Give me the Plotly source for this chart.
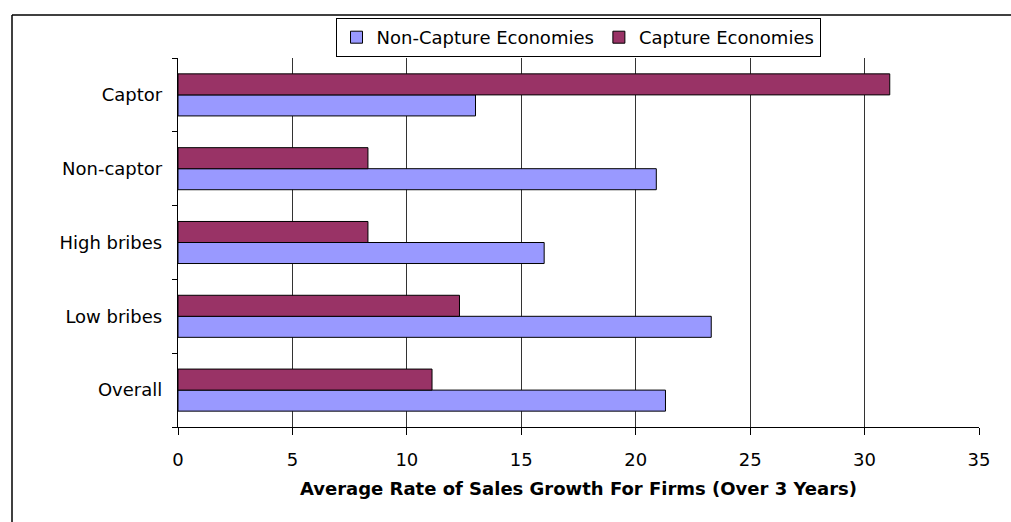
import plotly.graph_objects as go

categories = ["Overall", "Low bribes", "High bribes", "Non-captor", "Captor"]
non_capture = [21.3, 23.3, 16.0, 20.9, 13.0]
capture = [11.1, 12.3, 8.3, 8.3, 31.1]
x_ticks = [0, 5, 10, 15, 20, 25, 30, 35]

FONT = "DejaVu Sans, Verdana, sans-serif"

fig = go.Figure()
fig.add_trace(go.Bar(
    y=categories, x=non_capture, orientation="h", name="Non-Capture Economies",
    marker=dict(color="#9999FF", line=dict(color="#000000", width=1)),
))
fig.add_trace(go.Bar(
    y=categories, x=capture, orientation="h", name="Capture Economies",
    marker=dict(color="#993366", line=dict(color="#000000", width=1)),
))

L, R, T, B = 178, 32, 58, 95
W, H = 1011, 522
pw, ph = W - L - R, H - T - B

def px_x(p):
    return (p - L) / pw

def px_y(p):
    return (H - B - p) / ph

fig.update_layout(
    width=W, height=H,
    margin=dict(l=L, r=R, t=T, b=B, autoexpand=False),
    paper_bgcolor="white", plot_bgcolor="white",
    barmode="group", bargap=0.43, bargroupgap=0,
    font=dict(family=FONT, size=17, color="black"),
    showlegend=True,
    legend=dict(
        orientation="h", x=px_x(578), xanchor="center", y=px_y(37.5), yanchor="middle",
        bordercolor="black", borderwidth=1, bgcolor="white",
        font=dict(family=FONT, size=18, color="black"),
        traceorder="normal", itemwidth=30, tracegroupgap=0,
    ),
    xaxis=dict(
        range=[0, 35], tickvals=x_ticks, ticktext=[str(v) for v in x_ticks],
        showgrid=True, gridcolor="#333333", gridwidth=1.3,
        showline=True, linecolor="black", linewidth=1.3,
        ticks="outside", ticklen=7, tickcolor="black",
        zeroline=False, ticklabelstandoff=9,
        tickfont=dict(family=FONT, size=18, color="black"),
        title=dict(text="<b>Average Rate of Sales Growth For Firms (Over 3 Years)</b>",
                   font=dict(family=FONT, size=18, color="black"), standoff=13),
    ),
    yaxis=dict(
        type="category", categoryorder="array", categoryarray=categories,
        showgrid=False, showline=True, linecolor="black", linewidth=1.3,
        ticks="outside", ticklen=5, tickcolor="black", tickson="boundaries",
        ticklabelstandoff=11,
        tickfont=dict(family=FONT, size=18, color="black"),
    ),
    shapes=[
        dict(type="line", xref="paper", yref="paper",
             x0=px_x(12), x1=px_x(1015), y0=px_y(15), y1=px_y(15),
             line=dict(color="black", width=1.5)),
        dict(type="line", xref="paper", yref="paper",
             x0=px_x(12), x1=px_x(12), y0=px_y(15), y1=px_y(525),
             line=dict(color="black", width=1.5)),
    ],
)

fig.write_html("out.html")
